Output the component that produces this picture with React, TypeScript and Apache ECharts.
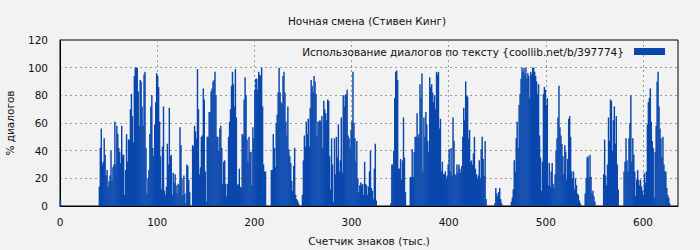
import React, { useEffect, useRef } from "react";
import * as echarts from "echarts";

const TITLE = "Ночная смена (Стивен Кинг)";
const SERIES_NAME = "Использование диалогов по тексту {coollib.net/b/397774}";
const X_NAME = "Счетчик знаков (тыс.)";
const Y_NAME = "% диалогов";
const X_TICKS = [0, 100, 200, 300, 400, 500, 600];
const Y_TICKS = [0, 20, 40, 60, 80, 100, 120];

// dialogue share per thousand characters, positions 0..39
const part0 = [5, 0, 0, 0, 0, 0, 0, 0, 0, 0, 0, 0, 0, 0, 0, 0, 0, 0, 0, 0,
  0, 0, 0, 0, 0, 0, 0, 0, 0, 0, 0, 0, 0, 0, 0, 0, 0, 0, 0, 0];
// 40..99
const part1 = [14, 42, 56, 30, 32, 49, 37, 22, 26, 14, 18, 22, 40, 18, 28, 30, 61, 30, 58, 52,
  42, 39, 31, 58, 37, 37, 8, 26, 52, 32, 48, 48, 70, 81, 65, 46, 94, 100, 100, 100,
  83, 58, 91, 90, 72, 58, 95, 97, 42, 9, 20, 26, 52, 72, 80, 42, 36, 59, 75, 96];
// 100..159
const part2 = [94, 86, 61, 36, 12, 43, 72, 11, 8, 14, 45, 30, 71, 36, 37, 8, 24, 17, 23, 15,
  9, 16, 15, 57, 44, 20, 8, 22, 9, 2, 30, 29, 19, 10, 0, 0, 44, 43, 58, 54,
  49, 99, 70, 23, 28, 50, 51, 85, 77, 25, 3, 50, 50, 68, 68, 83, 85, 90, 91, 97];
// 160..239
const part3 = [80, 50, 50, 40, 56, 58, 42, 16, 32, 33, 16, 7, 16, 50, 61, 70, 87, 97, 88, 72,
  99, 64, 15, 16, 27, 14, 13, 52, 51, 77, 93, 80, 48, 32, 50, 39, 39, 15, 57, 49,
  84, 92, 92, 84, 97, 95, 94, 100, 72, 30, 25, 25, 0, 0, 0, 0, 0, 26, 26, 52,
  42, 28, 60, 66, 82, 100, 82, 75, 74, 94, 97, 82, 61, 51, 72, 41, 36, 31, 18, 11];
// 240..299
const part4 = [29, 42, 8, 5, 4, 2, 0, 0, 0, 8, 33, 51, 43, 61, 52, 63, 43, 71, 91, 87,
  82, 94, 90, 81, 51, 61, 61, 62, 61, 65, 42, 76, 70, 67, 62, 77, 76, 36, 12, 49,
  30, 3, 49, 23, 50, 35, 59, 25, 33, 64, 24, 80, 72, 80, 81, 84, 51, 49, 42, 55];
// 300..399
const part5 = [61, 97, 60, 49, 32, 47, 20, 10, 15, 17, 15, 16, 8, 32, 16, 15, 8, 14, 25, 40,
  13, 11, 5, 27, 45, 4, 0, 0, 0, 0, 0, 0, 0, 0, 0, 0, 0, 0, 0, 0,
  2, 30, 30, 40, 78, 97, 98, 91, 27, 27, 34, 19, 33, 64, 35, 10, 0, 0, 0, 0,
  21, 21, 41, 21, 39, 50, 50, 67, 50, 52, 88, 78, 96, 25, 64, 50, 68, 59, 47, 39,
  93, 86, 88, 82, 75, 80, 70, 97, 95, 97, 56, 63, 25, 32, 23, 23, 25, 20, 22, 30];
// 400..479
const part6 = [41, 25, 42, 22, 64, 47, 23, 22, 30, 24, 30, 27, 24, 29, 50, 71, 62, 90, 80, 79,
  49, 55, 32, 33, 30, 38, 50, 27, 23, 20, 22, 33, 20, 41, 50, 34, 22, 47, 5, 0,
  0, 0, 0, 0, 0, 0, 0, 2, 13, 9, 7, 10, 13, 5, 2, 0, 0, 0, 0, 0,
  0, 0, 0, 0, 3, 6, 12, 33, 25, 49, 61, 42, 73, 81, 92, 100, 97, 100, 95, 100];
// 480..579
const part7 = [92, 96, 94, 78, 97, 95, 100, 100, 97, 94, 90, 81, 88, 51, 35, 11, 32, 81, 86, 84,
  73, 78, 15, 31, 14, 25, 31, 16, 13, 23, 40, 49, 64, 87, 57, 51, 45, 36, 23, 44,
  39, 19, 34, 63, 65, 50, 25, 20, 25, 12, 20, 15, 9, 8, 4, 2, 0, 0, 0, 0,
  9, 20, 35, 36, 21, 37, 21, 9, 11, 7, 3, 0, 0, 0, 0, 0, 0, 0, 0, 23,
  48, 22, 15, 30, 64, 47, 77, 76, 40, 62, 72, 45, 65, 30, 12, 0, 0, 0, 0, 0];
// 580..627
const part8 = [25, 32, 49, 33, 25, 49, 60, 80, 32, 49, 37, 25, 7, 19, 26, 19, 15, 19, 14, 11,
  8, 24, 17, 25, 59, 75, 78, 85, 61, 47, 42, 6, 39, 58, 90, 97, 72, 56, 49, 35,
  50, 30, 25, 25, 13, 8, 6, 2];

const values = [...part0, ...part1, ...part2, ...part3, ...part4, ...part5, ...part6, ...part7, ...part8];

const FONT = "DejaVu Sans";
const FS = 10.5;
const TXT = "#111";

export default function App() {
  const ref = useRef<HTMLDivElement>(null);
  useEffect(() => {
    if (!ref.current) return;
    const chart = echarts.init(ref.current, undefined, { renderer: "svg" });
    chart.setOption({
      animation: false,
      backgroundColor: "#f2f2f2",
      textStyle: { fontFamily: FONT },
      title: {
        text: TITLE,
        left: 362,
        textAlign: "center",
        top: 10,
        textStyle: { fontFamily: FONT, fontSize: FS, fontWeight: "normal", color: TXT },
      },
      legend: {
        data: [SERIES_NAME],
        right: 30,
        top: 41,
        align: "right",
        itemWidth: 31,
        itemHeight: 7,
        itemGap: 0,
        icon: "rect",
        textStyle: { fontFamily: FONT, fontSize: FS, color: TXT, padding: [0, 5, 0, 0] },
      },
      grid: {
        left: 60,
        right: 22,
        top: 40,
        bottom: 44,
        containLabel: false,
        outerBoundsMode: "none",
        show: true,
        borderColor: "#000",
        borderWidth: 1,
        backgroundColor: "transparent",
      },
      xAxis: {
        type: "value",
        min: X_TICKS[0],
        max: 636,
        interval: 100,
        name: X_NAME,
        nameLocation: "middle",
        nameGap: 29,
        nameTextStyle: { fontFamily: FONT, fontSize: FS, color: TXT },
        axisLine: { show: true, lineStyle: { color: "#000", width: 1 } },
        axisTick: { show: false },
        axisLabel: {
          fontFamily: FONT,
          fontSize: FS,
          color: TXT,
          margin: 10,
          formatter: (v: number) => (X_TICKS.includes(v) ? String(v) : ""),
        },
        splitLine: {
          show: true,
          showMinLine: false,
          showMaxLine: false,
          lineStyle: { color: "#999", type: [2, 3], width: 1 },
        },
      },
      yAxis: {
        type: "value",
        min: Y_TICKS[0],
        max: Y_TICKS[Y_TICKS.length - 1],
        interval: 20,
        name: Y_NAME,
        nameLocation: "middle",
        nameGap: 45,
        nameTextStyle: { fontFamily: FONT, fontSize: FS, color: TXT },
        axisLine: { show: true, lineStyle: { color: "#000", width: 1 } },
        axisTick: { show: false },
        axisLabel: { fontFamily: FONT, fontSize: FS, color: TXT, margin: 12 },
        splitLine: {
          show: true,
          showMinLine: false,
          showMaxLine: false,
          lineStyle: { color: "#999", type: [2, 3], width: 1 },
        },
      },
      series: [
        {
          name: SERIES_NAME,
          type: "bar",
          barWidth: 1.45,
          itemStyle: { color: "#0947ad" },
          data: values.map((v, i) => [i + 0.5, v]),
        },
      ],
    });
    return () => chart.dispose();
  }, []);
  return <div ref={ref} style={{ position: "fixed", left: 0, top: 0, width: 700, height: 250 }} />;
}
